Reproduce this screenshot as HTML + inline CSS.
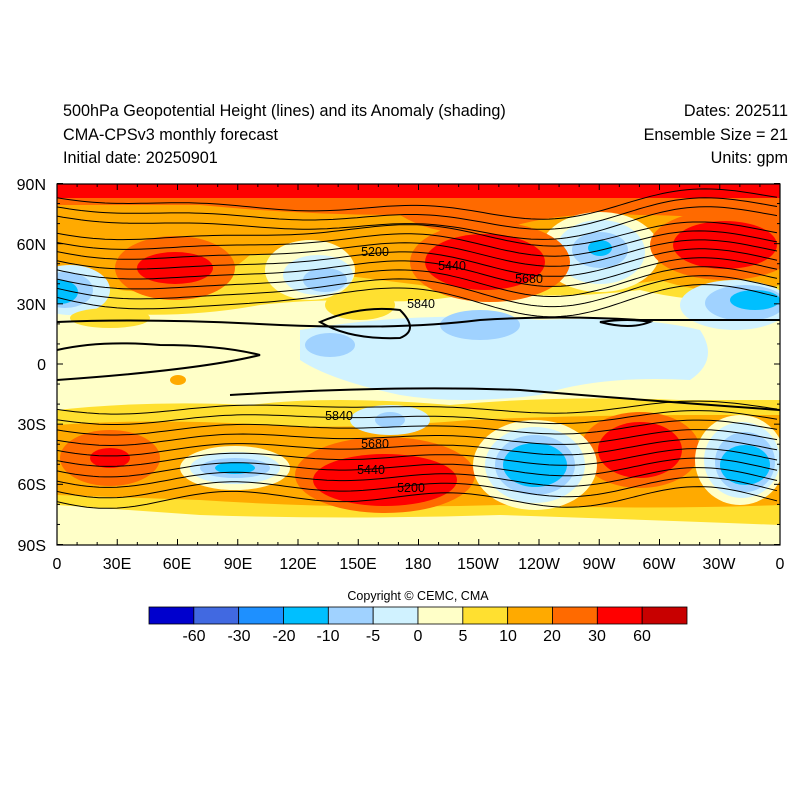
<!DOCTYPE html>
<html><head><meta charset="utf-8"><style>
body{margin:0;background:#fff;}
svg{display:block;font-family:"Liberation Sans",sans-serif;}
</style></head><body>
<svg id="s" width="800" height="800" viewBox="0 0 800 800" xmlns="http://www.w3.org/2000/svg">
<defs><clipPath id="c"><rect x="57" y="184" width="723" height="361"/></clipPath></defs>
<text x="63" y="116" font-size="16.2">500hPa Geopotential Height (lines) and its Anomaly (shading)</text>
<text x="63" y="140" font-size="16.2">CMA-CPSv3 monthly forecast</text>
<text x="63" y="163" font-size="16.2">Initial date: 20250901</text>
<text x="788" y="116" font-size="16.2" text-anchor="end">Dates: 202511</text>
<text x="788" y="140" font-size="16.2" text-anchor="end">Ensemble Size = 21</text>
<text x="788" y="163" font-size="16.2" text-anchor="end">Units: gpm</text>
<g clip-path="url(#c)">
<rect x="57" y="184" width="723" height="361" fill="#FFFFC8"/>
<g id="sh">
<path d="M57 190 H780 V300 Q700 305 640 290 Q560 300 480 292 Q420 305 360 300 Q300 300 260 305 Q180 320 90 312 L57 305Z" fill="#FFE030"/>
<path d="M57 190 H780 V285 Q720 300 660 280 Q600 290 540 285 Q470 296 420 285 Q380 280 340 275 Q300 250 250 255 Q200 300 120 290 L57 270Z" fill="#FFAA00"/>
<path d="M57 184 H780 V225 Q700 215 640 215 Q560 210 500 230 Q440 240 400 215 Q300 215 200 205 L57 205Z" fill="#FF6A00"/>
<rect x="57" y="184" width="723" height="14" fill="#FF0000"/>
<ellipse cx="310" cy="270" rx="45" ry="30" fill="#FFFFC8"/>
<ellipse cx="318" cy="275" rx="35" ry="20" fill="#D0F2FF"/>
<ellipse cx="325" cy="280" rx="22" ry="12" fill="#A0D2FF"/>
<ellipse cx="600" cy="252" rx="60" ry="40" fill="#FFFFC8"/>
<ellipse cx="600" cy="252" rx="45" ry="32" fill="#D0F2FF"/>
<ellipse cx="600" cy="250" rx="28" ry="18" fill="#A0D2FF"/>
<ellipse cx="600" cy="248" rx="12" ry="8" fill="#00BFFF"/>
<ellipse cx="70" cy="290" rx="40" ry="25" fill="#D0F2FF"/>
<ellipse cx="65" cy="290" rx="28" ry="18" fill="#A0D2FF"/>
<ellipse cx="60" cy="292" rx="18" ry="12" fill="#00BFFF"/>
<ellipse cx="175" cy="268" rx="60" ry="32" fill="#FF6A00"/>
<ellipse cx="175" cy="268" rx="38" ry="16" fill="#FF0000"/>
<ellipse cx="490" cy="262" rx="80" ry="40" fill="#FF6A00"/>
<ellipse cx="485" cy="262" rx="60" ry="28" fill="#FF0000"/>
<ellipse cx="725" cy="245" rx="75" ry="35" fill="#FF6A00"/>
<ellipse cx="725" cy="245" rx="52" ry="24" fill="#FF0000"/>
<ellipse cx="735" cy="305" rx="55" ry="25" fill="#D0F2FF"/>
<ellipse cx="745" cy="303" rx="40" ry="18" fill="#A0D2FF"/>
<ellipse cx="755" cy="300" rx="25" ry="10" fill="#00BFFF"/>
<ellipse cx="110" cy="318" rx="40" ry="10" fill="#FFE030"/>
<ellipse cx="360" cy="305" rx="35" ry="15" fill="#FFE030"/>
<path d="M300 330 Q420 310 540 320 Q640 315 700 330 Q720 360 690 380 Q600 375 540 395 Q460 405 400 395 Q330 380 300 360Z" fill="#D0F2FF"/>
<ellipse cx="480" cy="325" rx="40" ry="15" fill="#A0D2FF"/>
<ellipse cx="330" cy="345" rx="25" ry="12" fill="#A0D2FF"/>
<ellipse cx="178" cy="380" rx="8" ry="5" fill="#FFAA00"/>
<path d="M57 410 Q150 400 250 405 Q330 395 450 405 Q560 395 680 400 L780 400 V525 Q650 520 500 515 Q350 520 200 515 L57 505Z" fill="#FFE030"/>
<path d="M57 425 Q150 418 270 425 Q350 430 470 420 Q580 415 700 415 L780 415 V505 Q650 510 500 505 Q350 510 200 500 L57 495Z" fill="#FFAA00"/>
<ellipse cx="110" cy="458" rx="50" ry="28" fill="#FF6A00"/>
<ellipse cx="110" cy="458" rx="20" ry="10" fill="#FF0000"/>
<ellipse cx="385" cy="475" rx="90" ry="38" fill="#FF6A00"/>
<ellipse cx="385" cy="480" rx="72" ry="26" fill="#FF0000"/>
<ellipse cx="640" cy="450" rx="60" ry="38" fill="#FF6A00"/>
<ellipse cx="640" cy="450" rx="42" ry="28" fill="#FF0000"/>
<ellipse cx="235" cy="468" rx="55" ry="22" fill="#FFFFC8"/>
<ellipse cx="235" cy="468" rx="45" ry="16" fill="#D0F2FF"/>
<ellipse cx="235" cy="468" rx="35" ry="10" fill="#A0D2FF"/>
<ellipse cx="235" cy="468" rx="20" ry="6" fill="#00BFFF"/>
<ellipse cx="535" cy="465" rx="62" ry="45" fill="#FFFFC8"/>
<ellipse cx="535" cy="465" rx="50" ry="38" fill="#D0F2FF"/>
<ellipse cx="535" cy="465" rx="40" ry="30" fill="#A0D2FF"/>
<ellipse cx="535" cy="465" rx="32" ry="22" fill="#00BFFF"/>
<ellipse cx="740" cy="460" rx="45" ry="45" fill="#FFFFC8"/>
<ellipse cx="742" cy="460" rx="38" ry="38" fill="#D0F2FF"/>
<ellipse cx="745" cy="462" rx="30" ry="30" fill="#A0D2FF"/>
<ellipse cx="745" cy="465" rx="25" ry="20" fill="#00BFFF"/>
<ellipse cx="390" cy="420" rx="40" ry="15" fill="#D0F2FF"/>
<ellipse cx="390" cy="420" rx="15" ry="8" fill="#A0D2FF"/>
<rect x="57" y="528" width="723" height="17" fill="#FFFFC8"/>
</g>
<g id="lines" fill="none" stroke="#000" stroke-width="1"></g>
<g fill="none" stroke="#000" stroke-width="2">
<path d="M57 322 Q150 318 280 325 Q400 330 480 320 Q560 315 640 320 L780 320"/>
<path d="M57 350 Q100 340 160 345 Q220 345 260 355 Q200 370 57 380"/>
<path d="M230 395 Q400 385 520 390 Q640 400 780 410"/>
<path d="M320 322 Q360 305 400 310 Q420 330 400 338 Q350 340 320 322Z"/>
<path d="M600 322 Q630 318 650 322 Q630 330 600 322Z"/>
</g>
</g>
<g font-size="12.5" text-anchor="middle">
<text x="375" y="256">5200</text>
<text x="452" y="270">5440</text>
<text x="529" y="283">5680</text>
<text x="421" y="308">5840</text>
<text x="339" y="420">5840</text>
<text x="375" y="448">5680</text>
<text x="371" y="474">5440</text>
<text x="411" y="492">5200</text>
</g>
<rect x="57" y="184" width="723" height="361" fill="none" stroke="#000" stroke-width="1.2"/>
<g id="ticks" stroke="#000" stroke-width="1"></g>
<g font-size="16">
<g text-anchor="end">
<text x="46" y="190">90N</text><text x="46" y="250">60N</text><text x="46" y="310">30N</text><text x="46" y="370">0</text><text x="46" y="430">30S</text><text x="46" y="490">60S</text><text x="46" y="551">90S</text></g>
<g text-anchor="middle">
<text x="57" y="569">0</text><text x="117" y="569">30E</text><text x="177" y="569">60E</text><text x="238" y="569">90E</text><text x="298" y="569">120E</text><text x="358" y="569">150E</text><text x="418" y="569">180</text><text x="478" y="569">150W</text><text x="539" y="569">120W</text><text x="599" y="569">90W</text><text x="659" y="569">60W</text><text x="719" y="569">30W</text><text x="780" y="569">0</text></g>
</g>
<text x="418" y="600" font-size="12.5" text-anchor="middle">Copyright © CEMC, CMA</text>
<g id="cb" stroke="#000" stroke-width="0.8"></g>
<g font-size="16" text-anchor="middle">
<text x="194" y="641">-60</text><text x="239" y="641">-30</text><text x="284" y="641">-20</text><text x="328" y="641">-10</text><text x="373" y="641">-5</text><text x="418" y="641">0</text><text x="463" y="641">5</text><text x="508" y="641">10</text><text x="552" y="641">20</text><text x="597" y="641">30</text><text x="642" y="641">60</text></g>
</svg>
<script>
var NS="http://www.w3.org/2000/svg";
function el(p,t,a){var e=document.createElementNS(NS,t);for(var k in a)e.setAttribute(k,a[k]);document.getElementById(p).appendChild(e);}
var cols=["#0000CD","#4169E1","#1E90FF","#00BFFF","#A0D2FF","#D0F2FF","#FFFFC8","#FFE030","#FFAA00","#FF6A00","#FF0000","#C80000"];
var w=(687-149)/12;
for(var i=0;i<12;i++)el("cb","rect",{x:149+i*w,y:607,width:w,height:17,fill:cols[i]});
for(var lon=0;lon<=360;lon+=10){var x=57+lon*723/360,L=lon%30==0?6:3;
el("ticks","line",{x1:x,y1:184,x2:x,y2:184+L});el("ticks","line",{x1:x,y1:545,x2:x,y2:545-L});}
for(var lat=-90;lat<=90;lat+=10){var y=364-lat*361/180,L=lat%30==0?6:3;
el("ticks","line",{x1:57,y1:y,x2:57+L,y2:y});el("ticks","line",{x1:780,y1:y,x2:780-L,y2:y});}
for(var j=0;j<11;j++){var d="";var base=205+j*9.5;
for(var x=57;x<=780;x+=6){var t=(x-57)/723*2*Math.PI;
var y=base+(6+j*0.6)*Math.sin(t*2-0.6)+5*Math.sin(t*3+1)-(j<3?8*Math.cos(t):0);
d+=(x==57?"M":"L")+x+" "+y.toFixed(1);}
el("lines","path",{d:d});}
for(var j=0;j<10;j++){var d="";var base=408+j*10;
for(var x=57;x<=780;x+=6){var t=(x-57)/723*2*Math.PI;
var y=base+(3+j*0.5)*Math.sin(t*3+0.5)+4*Math.sin(t*2);
d+=(x==57?"M":"L")+x+" "+y.toFixed(1);}
el("lines","path",{d:d});}
</script>
</body></html>
